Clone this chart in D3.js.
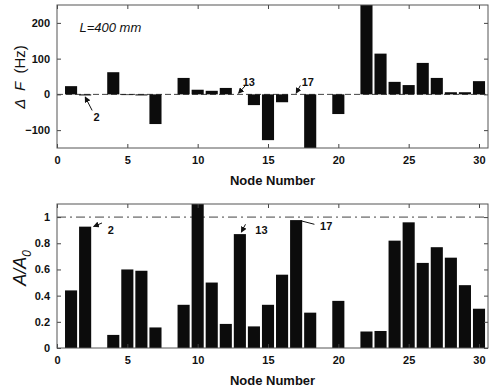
<!DOCTYPE html>
<html>
<head>
<meta charset="utf-8">
<script src="https://cdn.jsdelivr.net/npm/d3@7"></script>
<style>
  body { margin: 0; background: #fff; }
  svg { font-family: "Liberation Sans", Arial, sans-serif; }
  .tick text { font-size: 11px; font-weight: bold; fill: #111; }
</style>
</head>
<body>
<svg id="chart" width="489" height="388"></svg>
<script>
// data
const nodes = d3.range(1, 31)
const deltaF = [23, -3, 0, 62, -2, -3, -83, 0, 46, 13, 10, 18, 0, -30, -128, -22, 0, -165, 0, -55, 0, 265, 114, 35, 26, 88, 46, 6, 6, 37]
const ampRatio = [0.44, 0.927, 0, 0.10, 0.60, 0.59, 0.157, 0, 0.33, 1.12, 0.50, 0.184, 0.87, 0.165, 0.33, 0.56, 0.977, 0.27, 0, 0.36, 0, 0.126, 0.13, 0.82, 0.96, 0.65, 0.77, 0.69, 0.48, 0.30]
const xTicks = [0, 5, 10, 15, 20, 25, 30]
const fTicks = [-100, 0, 100, 200]
const aTicks = [0, 0.2, 0.4, 0.6, 0.8, 1]

const svg = d3.select("#chart")
const left = 57, right = 488
const barW = 0.86

const x = d3.scaleLinear().domain([0, 30.64]).range([left, right])

function panel(id, top, bottom, yDomain, yTicks, yFmt, values, refValue, refDash) {
    const y = d3.scaleLinear().domain(yDomain).range([bottom, top])
    const g = svg.append("g")

    g.append("clipPath").attr("id", id)
        .append("rect").attr("x", left).attr("y", top).attr("width", right - left).attr("height", bottom - top)

    // reference line
    g.append("line")
        .attr("x1", left).attr("x2", right)
        .attr("y1", y(refValue)).attr("y2", y(refValue))
        .attr("stroke", "#444").attr("stroke-width", 1)
        .attr("stroke-dasharray", refDash)

    // bars
    g.append("g").attr("clip-path", `url(#${id})`)
        .selectAll("rect")
        .data(values)
        .join("rect")
        .attr("x", (d, i) => x(nodes[i] - barW / 2))
        .attr("width", x(barW) - x(0))
        .attr("y", d => y(Math.max(0, d)))
        .attr("height", d => Math.abs(y(d) - y(0)))
        .attr("fill", "#0c0c0c")

    // axes, ticks inward on all four sides
    const ax = g.append("g").attr("transform", `translate(0,${bottom})`)
        .call(d3.axisBottom(x).tickValues(xTicks).tickSizeInner(-4).tickSizeOuter(0).tickPadding(8))
    const axTop = g.append("g").attr("transform", `translate(0,${top})`)
        .call(d3.axisTop(x).tickValues(xTicks).tickSizeInner(-4).tickSizeOuter(0).tickFormat(""))
    const ay = g.append("g").attr("transform", `translate(${left},0)`)
        .call(d3.axisLeft(y).tickValues(yTicks).tickFormat(yFmt).tickSizeInner(-4).tickSizeOuter(0).tickPadding(7))
    const ayR = g.append("g").attr("transform", `translate(${right},0)`)
        .call(d3.axisRight(y).tickValues(yTicks).tickSizeInner(-4).tickSizeOuter(0).tickFormat(""))
    for (const a of [ax, axTop, ay, ayR]) {
        a.select(".domain").remove()
        a.selectAll(".tick line").attr("stroke", "#444")
    }

    // frame
    g.append("rect")
        .attr("x", left).attr("y", top).attr("width", right - left).attr("height", bottom - top)
        .attr("fill", "none").attr("stroke", "#555").attr("stroke-width", 1)

    g.append("text")
        .attr("x", (left + right) / 2).attr("y", bottom + 37)
        .attr("text-anchor", "middle")
        .attr("font-size", 13).attr("font-weight", "bold").attr("fill", "#111")
        .text("Node Number")

    return y
}

const yF = panel("clipTop", 5, 148, [-150, 250], fTicks, d3.format("d"), deltaF, 0, "6,3")
const yA = panel("clipBot", 204, 348, [0, 1.1], aTicks, d => d === 0 || d === 1 ? d : d3.format(".1f")(d), ampRatio, 1, "9,4,2,4")

svg.append("defs").append("marker")
    .attr("id", "arrow").attr("viewBox", "0 0 10 10")
    .attr("refX", 9).attr("refY", 5)
    .attr("markerWidth", 6).attr("markerHeight", 6)
    .attr("orient", "auto")
    .append("path").attr("d", "M0,0L10,5L0,10z").attr("fill", "#111")

// y labels
const yl1 = svg.append("text")
    .attr("transform", "translate(25,77) rotate(-90)")
    .attr("text-anchor", "middle").attr("font-size", 15).attr("fill", "#111")
    .attr("xml:space", "preserve")
yl1.append("tspan").attr("font-style", "italic").text("Δ  ")
yl1.append("tspan").attr("font-style", "italic").text("F")
yl1.append("tspan").text("  (Hz)")

const yl2 = svg.append("text")
    .attr("transform", "translate(26,268) rotate(-90)")
    .attr("text-anchor", "middle").attr("font-size", 18).attr("font-style", "italic").attr("fill", "#111")
yl2.append("tspan").text("A/A")
yl2.append("tspan").attr("font-size", 12).attr("dy", 5).text("0")

svg.append("text")
    .attr("x", x(1.6)).attr("y", yF(200) + 9)
    .attr("font-size", 13).attr("font-style", "italic").attr("fill", "#111")
    .text("L=400 mm")

// annotations: label position and leader line, in data units
const notesF = [
    { t: "2", lx: 2.6, ly: -65, x1: 2.5, y1: -45, x2: 2.0, y2: -7, arrow: true },
    { t: "13", lx: 13.2, ly: 33, x1: 13.4, y1: 25, x2: 12.9, y2: 3, arrow: true },
    { t: "17", lx: 17.4, ly: 33, x1: 17.3, y1: 25, x2: 17.0, y2: 3, arrow: true }
]
const notesA = [
    { t: "2", lx: 3.6, ly: 0.9, x1: 3.2, y1: 0.955, x2: 2.6, y2: 0.928, arrow: true },
    { t: "13", lx: 14.1, ly: 0.9, x1: 13.4, y1: 0.945, x2: 13.1, y2: 0.885, arrow: true },
    { t: "17", lx: 18.7, ly: 0.93, x1: 18.3, y1: 0.945, x2: 17.4, y2: 0.97, arrow: false }
]
function annotate(list, y) {
    for (const n of list) {
        svg.append("line")
            .attr("x1", x(n.x1)).attr("y1", y(n.y1))
            .attr("x2", x(n.x2)).attr("y2", y(n.y2))
            .attr("stroke", "#111").attr("stroke-width", 1)
            .attr("marker-end", n.arrow ? "url(#arrow)" : null)
        svg.append("text")
            .attr("x", x(n.lx)).attr("y", y(n.ly)).attr("dy", "0.35em")
            .attr("font-size", 11).attr("font-weight", "bold").attr("fill", "#111")
            .text(n.t)
    }
}
annotate(notesF, yF)
annotate(notesA, yA)
</script>
</body>
</html>
